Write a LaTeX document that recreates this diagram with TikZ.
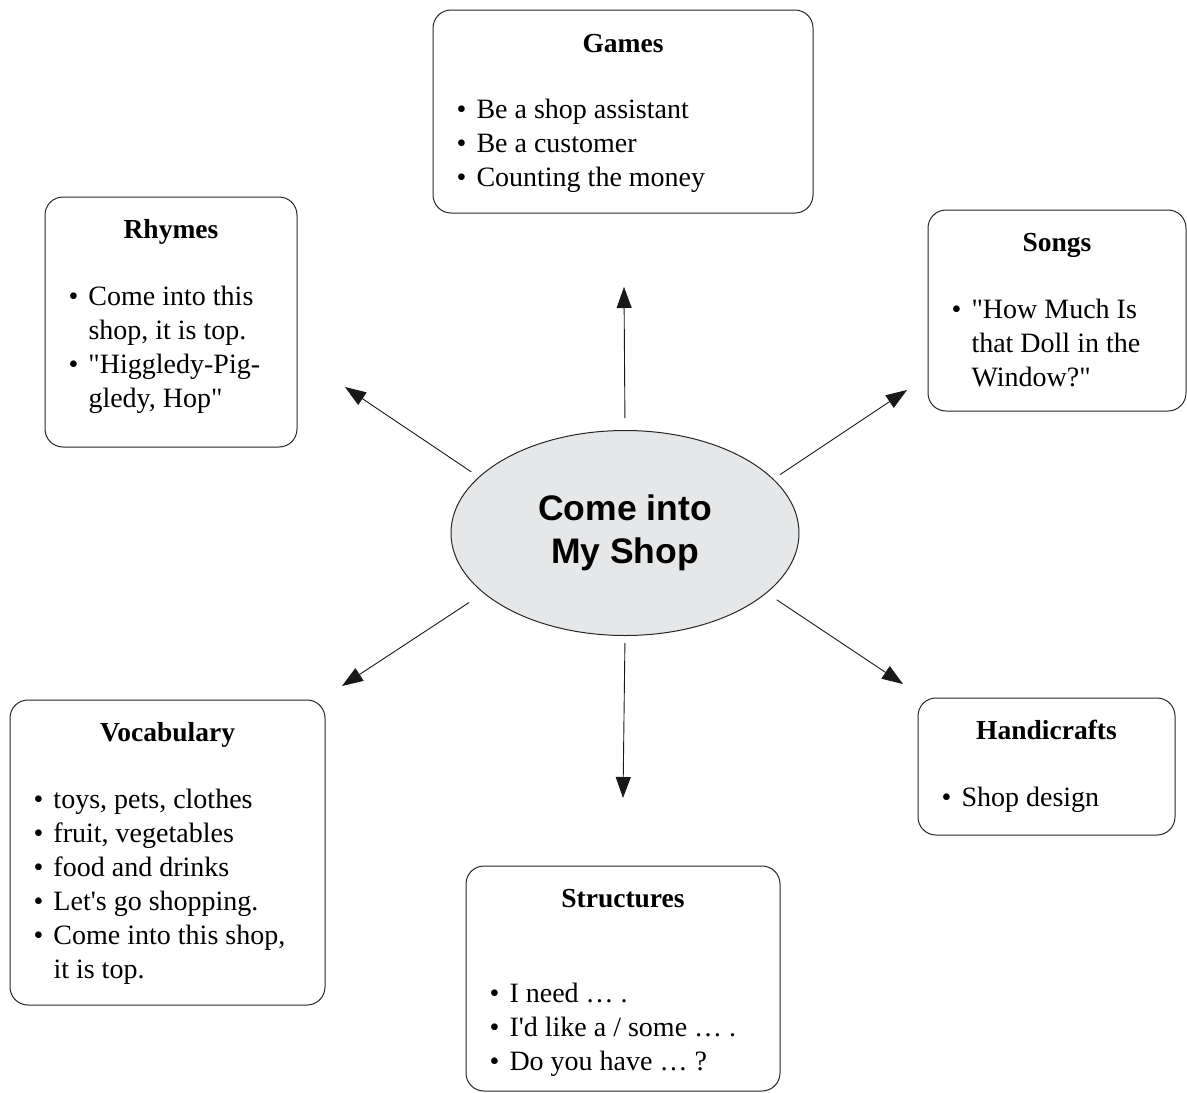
\documentclass[tikz,border=0pt]{standalone}
\usepackage{fontspec}
\setmainfont{Liberation Serif}
\newfontfamily\hubfont{Liberation Sans}
\usepackage{xcolor}
\usepackage{tikz}
\usetikzlibrary{shapes.geometric,arrows.meta,calc}

\definecolor{hubgray}{RGB}{230,231,233}
\newcommand{\bulletlist}[1]{\begin{tabular}[t]{@{}l@{\hspace{10pt}}l@{}}#1\end{tabular}}
\newcommand{\ap}{\textquotesingle}
\newcommand{\qt}{\textquotedbl}

\begin{document}
\begin{tikzpicture}[
    x=1pt, y=-1pt,
    topic/.style={draw=black!85, line width=1pt, rounded corners=18pt, inner sep=0pt},
    heading/.style={anchor=base, inner sep=0pt, font=\fontsize{27.5}{34}\selectfont\bfseries},
    items/.style={anchor=base west, inner sep=0pt, font=\fontsize{28}{34}\selectfont},
    hub/.style={ellipse, draw=black!85, fill=hubgray, line width=1pt, minimum width=348pt, minimum height=205pt, inner sep=0pt, align=center, font=\hubfont\fontsize{35.5}{43}\selectfont\bfseries},
    arrow/.style={-{Triangle[length=21pt, width=15pt]}, line width=0.9pt, black!90}
]
    \useasboundingbox (0,0) rectangle (1187,1093);

    \node[hub] (shop) at (625,533) {Come into\\My Shop};

    \node[topic, minimum width=380pt, minimum height=203pt] (games) at (623,111.5) {};
    \node[heading] (gamesT) at ($(games.north)+(0,43)$) {Games};
    \node[items] (gamesL) at ($(games.north west)+(24,109)$) {\bulletlist{
        \textbullet & Be a shop assistant\\
        \textbullet & Be a customer\\
        \textbullet & Counting the money}};

    \node[topic, minimum width=252pt, minimum height=250pt] (rhymes) at (171,322) {};
    \node[heading] (rhymesT) at ($(rhymes.north)+(0,42)$) {Rhymes};
    \node[items] (rhymesL) at ($(rhymes.north west)+(24,109)$) {\bulletlist{
        \textbullet & Come into this\\
                    & shop, it is top.\\
        \textbullet & \qt Higgledy-Pig-\\
                    & gledy, Hop\qt}};

    \node[topic, minimum width=258pt, minimum height=201pt] (songs) at (1057,310.5) {};
    \node[heading] (songsT) at ($(songs.north)+(0,42)$) {Songs};
    \node[items] (songsL) at ($(songs.north west)+(24,109)$) {\bulletlist{
        \textbullet & \qt How Much Is\\
                    & that Doll in the\\
                    & Window?\qt}};

    \node[topic, minimum width=315pt, minimum height=305pt] (vocab) at (167.5,852.5) {};
    \node[heading] (vocabT) at ($(vocab.north)+(0,42)$) {Vocabulary};
    \node[items] (vocabL) at ($(vocab.north west)+(24,109)$) {\bulletlist{
        \textbullet & toys, pets, clothes\\
        \textbullet & fruit, vegetables\\
        \textbullet & food and drinks\\
        \textbullet & Let\ap s go shopping.\\
        \textbullet & Come into this shop,\\
                    & it is top.}};

    \node[topic, minimum width=314pt, minimum height=225pt] (struct) at (623,978.5) {};
    \node[heading] (structT) at ($(struct.north)+(0,42)$) {Structures};
    \node[items] (structL) at ($(struct.north west)+(24,137)$) {\bulletlist{
        \textbullet & I need … .\\
        \textbullet & I\ap d like a / some … .\\
        \textbullet & Do you have … ?}};

    \node[topic, minimum width=257pt, minimum height=137pt] (crafts) at (1046.5,766.5) {};
    \node[heading] (craftsT) at ($(crafts.north)+(0,42)$) {Handicrafts};
    \node[items] (craftsL) at ($(crafts.north west)+(24,109)$) {\bulletlist{
        \textbullet & Shop design}};

    \coordinate (gamesTip) at (624,287);
    \coordinate (rhymesTip) at (345,387);
    \coordinate (songsTip) at (907,390);
    \coordinate (vocabTip) at (342,686);
    \coordinate (structTip) at (623,798);
    \coordinate (craftsTip) at (903,684);

    \draw[arrow, shorten <=12pt] (shop.north) -- (gamesTip);
    \draw[arrow, shorten <=9pt] (shop.159) -- (rhymesTip);
    \draw[arrow, shorten <=8pt] (shop.20) -- (songsTip);
    \draw[arrow, shorten <=17pt] (shop.203) -- (vocabTip);
    \draw[arrow, shorten <=7pt] (shop.south) -- (structTip);
    \draw[arrow, shorten <=12pt] (shop.337) -- (craftsTip);
\end{tikzpicture}
\end{document}
